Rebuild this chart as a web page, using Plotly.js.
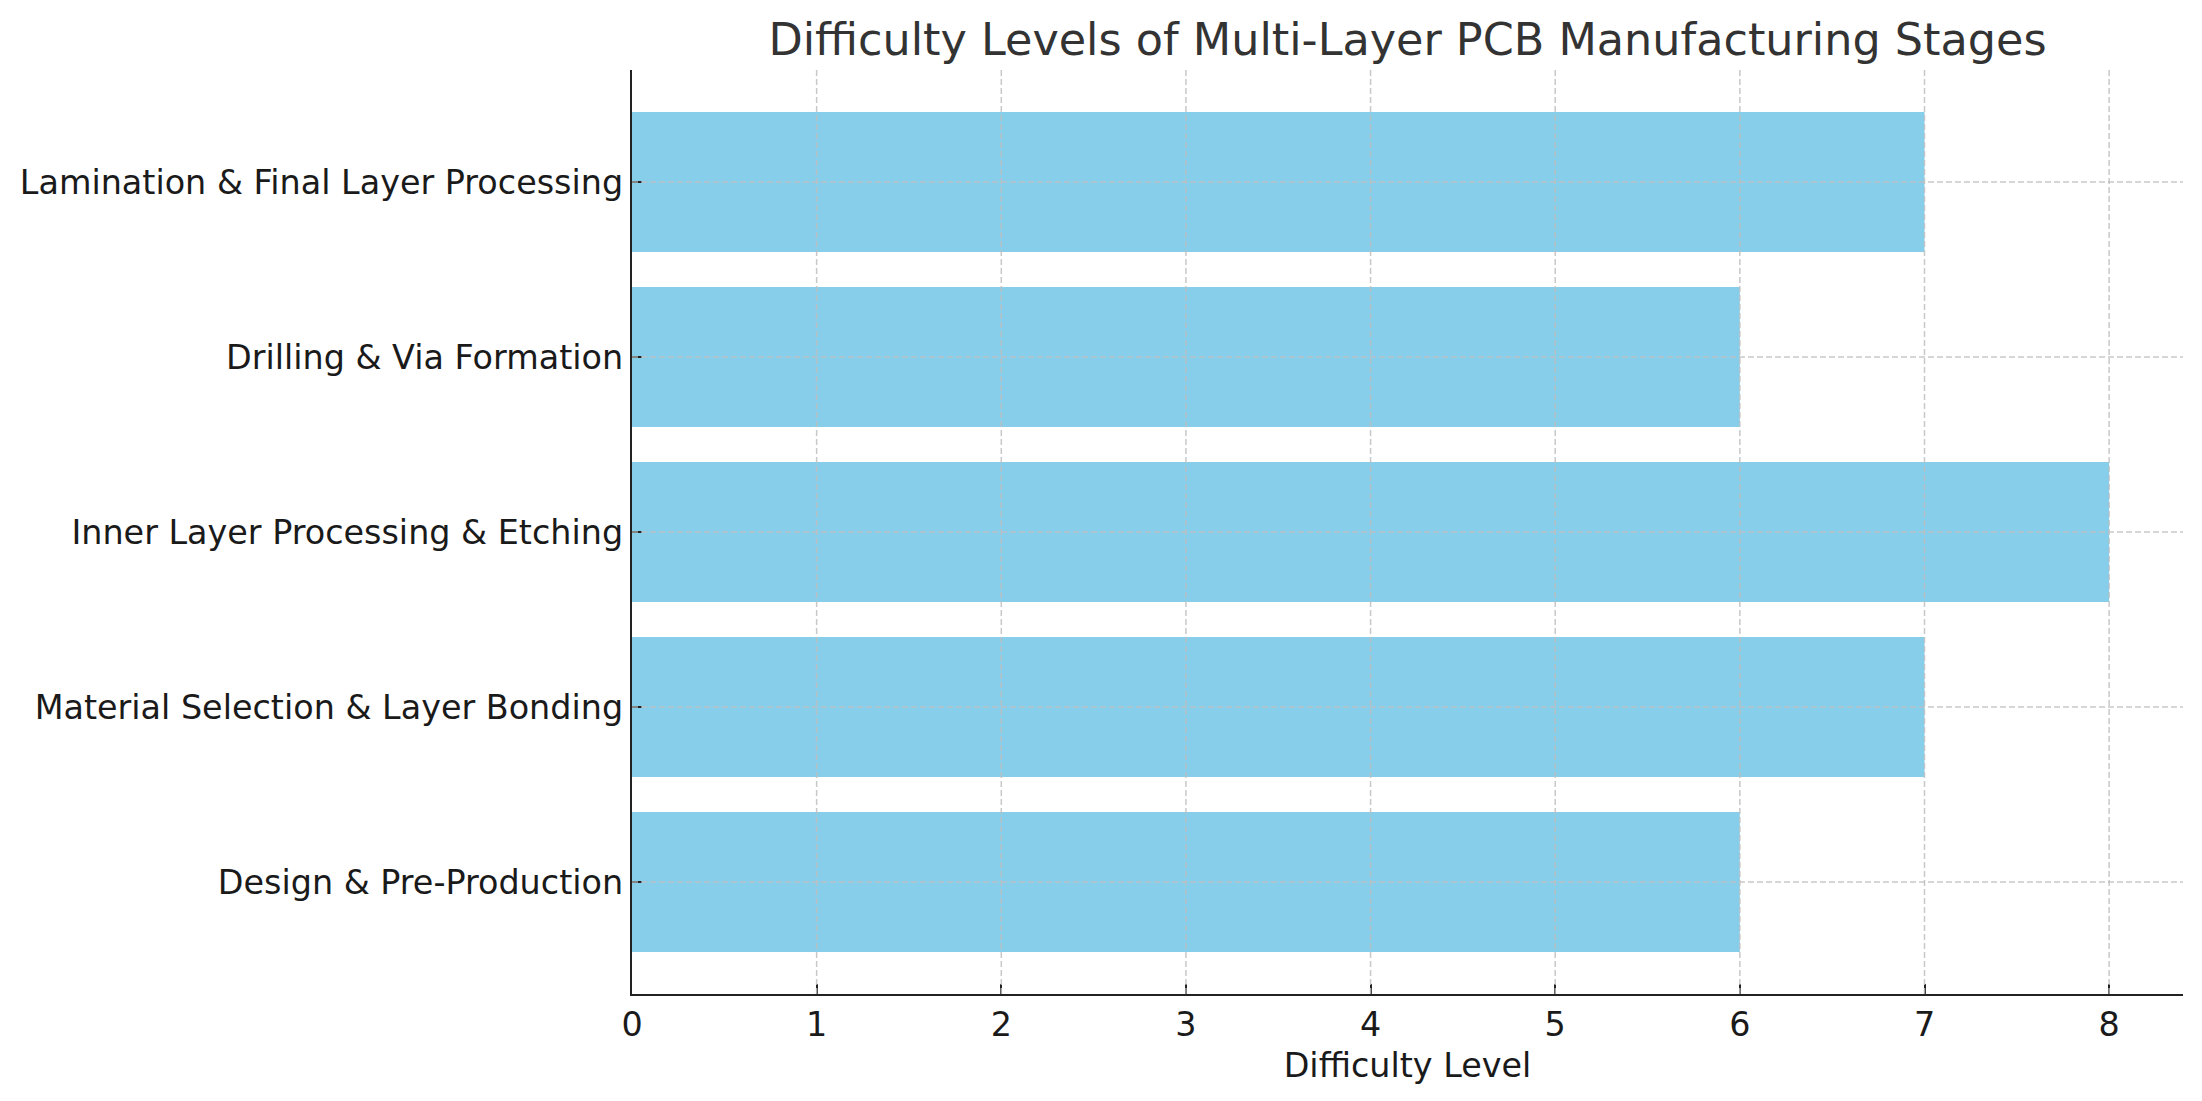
<!DOCTYPE html>
<html>
<head>
<meta charset="utf-8">
<script src="https://cdn.plot.ly/plotly-3.0.1.min.js"></script>
<style>html,body{margin:0;padding:0;background:#fff;}#chart{width:2202px;height:1101px;}</style>
</head>
<body>
<div id="chart"></div>
<script>
const stages = [
  "Design & Pre-Production",
  "Material Selection & Layer Bonding",
  "Inner Layer Processing & Etching",
  "Drilling & Via Formation",
  "Lamination & Final Layer Processing"
];
const difficulty = [6, 7, 8, 6, 7];
const xTicks = [0, 1, 2, 3, 4, 5, 6, 7, 8];

const FONT = "DejaVu Sans, sans-serif";
const gridStyle = {color: "rgba(190,190,190,0.85)", width: 1.5, dash: "6px,3px"};

const shapes = [];
xTicks.forEach(v => {
  if (v === 0) return;
  shapes.push({type: "line", layer: "above", xref: "x", yref: "paper", x0: v, x1: v, y0: 0, y1: 1, line: gridStyle});
});
stages.forEach(s => {
  shapes.push({type: "line", layer: "above", xref: "paper", yref: "y", x0: 0, x1: 1, y0: s, y1: s, line: gridStyle});
});

const data = [{
  type: "bar",
  orientation: "h",
  y: stages,
  x: difficulty,
  width: 0.8,
  marker: {color: "#87CEEB", line: {width: 0}},
  hoverinfo: "x+y"
}];

const layout = {
  width: 2202,
  height: 1101,
  margin: {l: 632, r: 19, t: 70, b: 107, pad: 0},
  paper_bgcolor: "#ffffff",
  plot_bgcolor: "#ffffff",
  font: {family: FONT, color: "#1a1a1a", size: 33.4},
  showlegend: false,
  title: {
    text: "Difficulty Levels of Multi-Layer PCB Manufacturing Stages",
    font: {family: FONT, size: 44.5, color: "#333333"},
    xref: "paper", x: 0.5, xanchor: "center",
    yref: "container", y: 1 - 55/1101, yanchor: "bottom"
  },
  xaxis: {
    range: [0, 8.4],
    tickvals: xTicks,
    ticktext: xTicks.map(String),
    ticks: "inside",
    ticklen: 10,
    tickwidth: 2,
    tickcolor: "#222222",
    showline: true,
    linecolor: "#222222",
    linewidth: 2.2,
    showgrid: false,
    zeroline: false,
    layer: "above traces",
    tickfont: {family: FONT, size: 33.4, color: "#1a1a1a"},
    title: {text: "Difficulty Level", font: {family: FONT, size: 33.4, color: "#1a1a1a"}, standoff: 10},
    fixedrange: true
  },
  yaxis: {
    type: "category",
    categoryorder: "array",
    categoryarray: stages,
    range: [-0.64, 4.64],
    ticks: "inside",
    ticklen: 10,
    tickwidth: 2,
    tickcolor: "#222222",
    showline: true,
    linecolor: "#222222",
    linewidth: 2.2,
    showgrid: false,
    zeroline: false,
    layer: "above traces",
    tickfont: {family: FONT, size: 33.4, color: "#1a1a1a"},
    fixedrange: true
  },
  shapes: shapes
};

Plotly.newPlot("chart", data, layout, {displayModeBar: false, staticPlot: true});
</script>
</body>
</html>
